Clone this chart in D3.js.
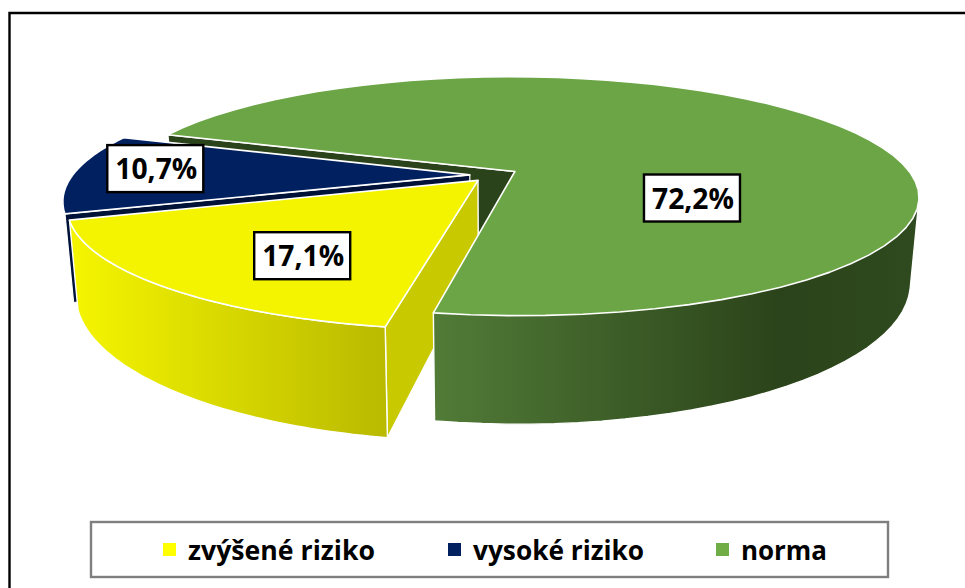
<!DOCTYPE html>
<html><head><meta charset="utf-8">
<script src="https://cdn.jsdelivr.net/npm/d3@7"></script>
<style>html,body{margin:0;padding:0;background:#fff}svg{display:block}
text{font-family:"Open Sans","Noto Sans",sans-serif;font-weight:700;fill:#000}</style></head>
<body><svg id="c" width="965" height="588"></svg>
<script>
const categories = ["zvýšené riziko", "vysoké riziko", "norma"];
const values = [17.1, 10.7, 72.2];
const labels = ["17,1%", "10,7%", "72,2%"];
const colors = ["#f4f400", "#002060", "#6ba546"];
const legendSwatch = ["#ffff00", "#002060", "#70ad47"];

const rad = Math.PI / 180, START = 190.1, EXPL = 0.061, P = 0.208;
const svg = d3.select("#c"), defs = svg.append("defs");
const grad = (id, x1, x2, stops) => {
  const g = defs.append("linearGradient").attr("id", id).attr("gradientUnits", "userSpaceOnUse")
    .attr("x1", x1).attr("x2", x2).attr("y1", 0).attr("y2", 0);
  stops.forEach(s => g.append("stop").attr("offset", s[0]).attr("stop-color", s[1]));
};
grad("gy", 77, 388, [[0, "#f4f400"], [1, "#b9b900"]]);
grad("gg", 435, 915, [[0, "#517b37"], [0.72, "#2b431a"], [1, "#2f4a1e"]]);

const topPlane = { cx: 494, cy: 175, R: 397, S: 115.8 };
const botPlane = { cx: 494, cy: 256, R: 389, S: 138.5 };
const project = (pl, u, v) => { const w = 1 - P * v; return [pl.cx + pl.R * u / w, pl.cy + pl.S * v / w]; };

const arcs = d3.pie().sort(null).startAngle(START * rad).endAngle((START + 360) * rad)(values).map(a => {
  const mid = (a.startAngle + a.endAngle) / 2;
  return { ...a, mid, ex: EXPL * Math.sin(mid), ey: -EXPL * Math.cos(mid) };
});
const yellow = arcs[0], navy = arcs[1], green = arcs[2];
const rimPt = (pl, a, t, r = 1) => project(pl, a.ex + r * Math.sin(t), a.ey - r * Math.cos(t));
const apex = (pl, a) => project(pl, a.ex, a.ey);
const sweep = (pl, a, t0, t1) => d3.range(0, 61).map(i => rimPt(pl, a, t0 + (t1 - t0) * i / 60));
const line = d3.line();
const poly = (pts, fill, sw = 1.4) => svg.append("path").attr("d", line(pts) + "Z")
  .attr("fill", fill).attr("stroke", "#fff").attr("stroke-width", sw).attr("stroke-linejoin", "round");

// frame
svg.append("path").attr("d", "M9.5,588V13H965").attr("fill", "none").attr("stroke", "#000").attr("stroke-width", 2.4);

// back pieces
const gs = green.startAngle, ns = navy.startAngle;
poly([apex(topPlane, green), rimPt(topPlane, green, gs), rimPt(botPlane, green, gs), apex(botPlane, green)], "#2b431a");
poly([...sweep(topPlane, navy, ns, ns + 0.3), ...sweep(botPlane, navy, ns + 0.3, ns)], "#002060", 1.2);
poly([apex(topPlane, navy), rimPt(topPlane, navy, ns), rimPt(botPlane, navy, ns), apex(botPlane, navy)], "#001238", 1.2);

// yellow walls
const ys = yellow.startAngle, ye = yellow.endAngle;
poly([apex(topPlane, yellow), rimPt(topPlane, yellow, ys), rimPt(botPlane, yellow, ys), apex(botPlane, yellow)], "#c9c900");
poly([...sweep(topPlane, yellow, ys, ye), ...sweep(botPlane, yellow, ye, ys)], "url(#gy)");
// tops
poly([apex(topPlane, yellow), ...sweep(topPlane, yellow, ys, ye)], colors[0], 1.6);
poly([apex(topPlane, navy), ...sweep(topPlane, navy, navy.startAngle, navy.endAngle)], colors[1], 1.6);
// green wall and top
const ge = green.endAngle, wallFrom = ge - 170 * rad;
poly(d3.polygonHull([...sweep(topPlane, green, wallFrom, ge), ...sweep(botPlane, green, wallFrom, ge)]), "url(#gg)");
poly([apex(topPlane, green), ...sweep(topPlane, green, gs, ge)], colors[2], 1.6);

// data labels
const labelTweak = [{ r: 0.68, d: -6.7 }, { r: 0.804, d: 3 }, { r: 0.48, d: 57.3 }];
arcs.forEach((a, i) => {
  const [x, y] = rimPt(topPlane, a, a.mid + labelTweak[i].d * rad, labelTweak[i].r);
  svg.append("rect").attr("x", x - 48).attr("y", y - 23.5).attr("width", 96).attr("height", 47)
    .attr("fill", "#fff").attr("stroke", "#000").attr("stroke-width", 2.4);
  svg.append("text").attr("x", x + 1).attr("y", y + 10.5).attr("text-anchor", "middle")
    .attr("font-size", 28).attr("textLength", 82).attr("lengthAdjust", "spacingAndGlyphs").text(labels[i]);
});

// legend
svg.append("rect").attr("x", 91).attr("y", 522).attr("width", 797).attr("height", 55)
  .attr("fill", "#fff").attr("stroke", "#7f7f7f").attr("stroke-width", 2.4);
const lx = d3.scaleOrdinal().domain(categories).range([163, 448, 716]);
const lw = d3.scaleOrdinal().domain(categories).range([187, 171, 86]);
categories.forEach((c, i) => {
  svg.append("rect").attr("x", lx(c)).attr("y", 543).attr("width", 13).attr("height", 13).attr("fill", legendSwatch[i]);
  svg.append("text").attr("x", lx(c) + 25).attr("y", 560).attr("font-size", 26)
    .attr("textLength", lw(c)).attr("lengthAdjust", "spacingAndGlyphs").text(c);
});
</script></body></html>
